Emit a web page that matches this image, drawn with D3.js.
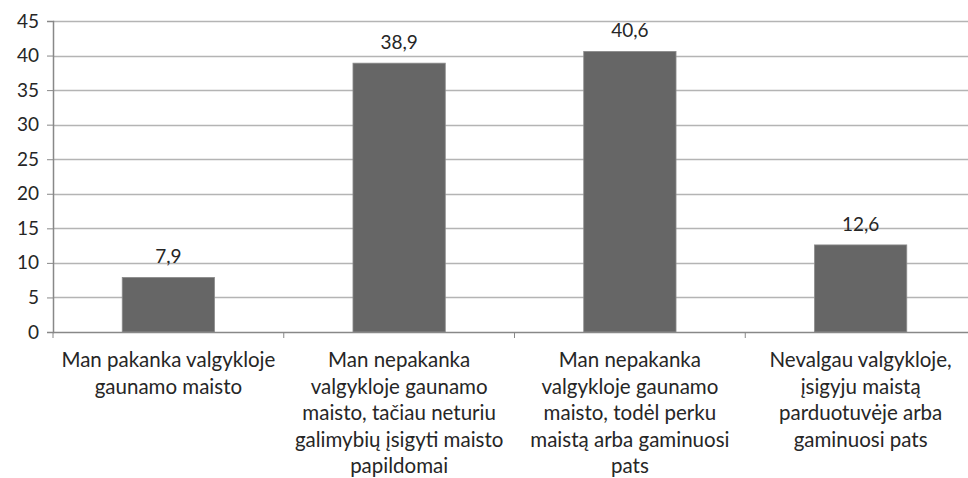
<!DOCTYPE html>
<html>
<head>
<meta charset="utf-8">
<script src="https://cdn.jsdelivr.net/npm/d3@7"></script>
<style>
body { margin: 0; background: #fff; }
text { font-family: Lato, sans-serif; fill: #262626; }
</style>
</head>
<body>
<script>
var categories = [
    ["Man pakanka valgykloje", "gaunamo maisto"],
    ["Man nepakanka", "valgykloje gaunamo", "maisto, tačiau neturiu", "galimybių įsigyti maisto", "papildomai"],
    ["Man nepakanka", "valgykloje gaunamo", "maisto, todėl perku", "maistą arba gaminuosi", "pats"],
    ["Nevalgau valgykloje,", "įsigyju maistą", "parduotuvėje arba", "gaminuosi pats"]
];
var values = [7.9, 38.9, 40.6, 12.6];
var yTicks = [0, 5, 10, 15, 20, 25, 30, 35, 40, 45];

var margin = {top: 21, right: -8, bottom: 146, left: 53};
var width = 968 - margin.left - margin.right, height = 478 - margin.top - margin.bottom;

var x = d3.scaleBand().domain(d3.range(values.length)).range([0, width]).paddingInner(0.6).paddingOuter(0.3);
var y = d3.scaleLinear().domain([0, 45]).range([height, 0]);

var svg = d3.select("body").append("svg")
            .attr("width", 968)
            .attr("height", 478)
            .append("g")
            .attr("transform", "translate(" + margin.left + "," + margin.top + ")");

// gridlines
svg.append("g")
    .selectAll("line")
    .data(yTicks.slice(1))
    .join("line")
    .attr("x1", 0)
    .attr("x2", width)
    .attr("y1", d => Math.round(y(d)) + 0.5)
    .attr("y2", d => Math.round(y(d)) + 0.5)
    .attr("stroke", "#b4b4b4")
    .attr("stroke-width", 1.3);

svg.append("g")
    .selectAll("rect")
    .data(values)
    .join("rect")
    .attr("x", (d, i) => x(i))
    .attr("width", x.bandwidth())
    .attr("y", d => y(d))
    .attr("height", d => height - y(d))
    .attr("fill", "#666666")
    .attr("stroke", "#8c8c8c")
    .attr("stroke-width", 0.8);

svg.append("g")
    .selectAll("text")
    .data(values)
    .join("text")
    .attr("x", (d, i) => x(i) + x.bandwidth() / 2)
    .attr("y", d => y(d) - 14)
    .attr("text-anchor", "middle")
    .attr("font-size", "19px")
    .text(d => String(d).replace(".", ","));

// y axis
var yAxis = svg.append("g")
    .call(d3.axisLeft(y).tickValues(yTicks).tickSize(6).tickPadding(8));
yAxis.select(".domain").attr("stroke", "#888").attr("stroke-width", 1.5);
yAxis.selectAll(".tick line").attr("stroke", "#888");
yAxis.selectAll("text").attr("font-size", "19px").style("fill", "#262626").attr("font-family", "Lato, sans-serif");

// x axis line + ticks between categories
var band = width / values.length;
svg.append("line")
    .attr("x1", 0).attr("x2", width)
    .attr("y1", height + 0.5).attr("y2", height + 0.5)
    .attr("stroke", "#888").attr("stroke-width", 1.5);
svg.append("g")
    .selectAll("line")
    .data(d3.range(values.length))
    .join("line")
    .attr("x1", d => d * band).attr("x2", d => d * band)
    .attr("y1", height).attr("y2", height + 6)
    .attr("stroke", "#888");

// category labels
svg.append("g")
    .selectAll("text")
    .data(categories)
    .join("text")
    .attr("text-anchor", "middle")
    .attr("font-size", "20.5px")
    .attr("transform", (d, i) => "translate(" + (x(i) + x.bandwidth() / 2) + "," + (height + 35) + ")")
    .each(function(lines) {
        d3.select(this).selectAll("tspan")
            .data(lines)
            .join("tspan")
            .attr("x", 0)
            .attr("y", (l, j) => j * 26.5)
            .text(l => l);
    });
</script>
</body>
</html>
